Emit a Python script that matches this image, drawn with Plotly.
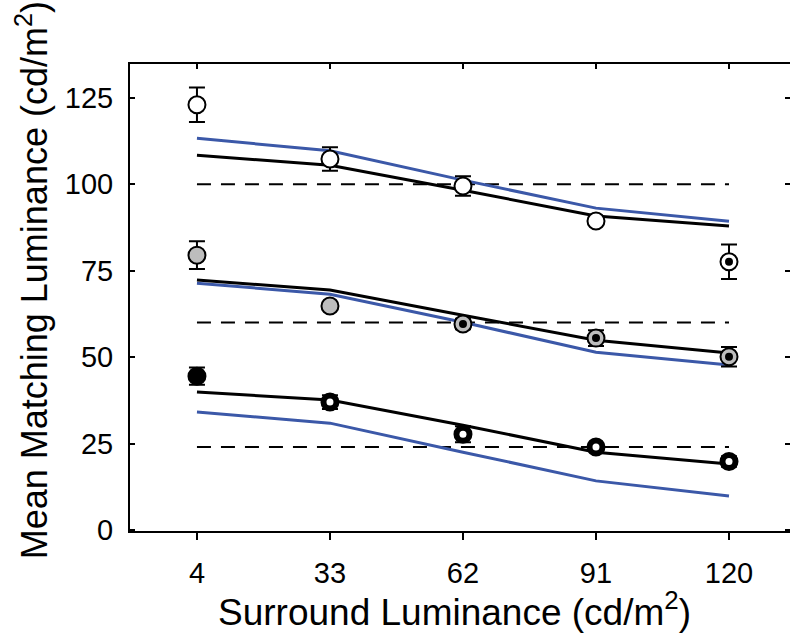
import plotly.graph_objects as go

# ---------------- data ----------------
surround = [4, 33, 62, 91, 120]
tick_vals_y = [0, 25, 50, 75, 100, 125]

high_mean = [123.0, 107.3, 99.5, 89.4, 77.6]
high_err = [5.0, 3.4, 2.8, 1.0, 5.0]
mid_mean = [79.5, 64.8, 59.6, 55.5, 50.1]
mid_err = [4.0, 1.0, 1.5, 2.3, 2.8]
low_mean = [44.5, 37.0, 27.7, 24.0, 19.8]
low_err = [2.5, 2.0, 2.3, 1.0, 1.5]

high_model_black = [108.4, 105.5, 98.3, 90.8, 87.9]
high_model_blue = [113.3, 109.7, 101.2, 93.1, 89.3]
mid_model_black = [72.3, 69.4, 62.1, 54.9, 51.2]
mid_model_blue = [71.4, 68.2, 60.1, 51.4, 47.7]
low_model_black = [39.9, 37.6, 30.3, 22.5, 19.1]
low_model_blue = [34.1, 30.9, 22.5, 14.2, 9.8]

targets = [100, 60, 24]

# which points have an inner dot (surround brighter than target)
high_dot = [False, False, False, False, True]
mid_dot = [False, False, True, True, True]
low_dot = [False, True, True, True, True]

BLUE = "#3B58A8"
GREY = "#BDBDBD"
FONT = "Liberation Sans"

fig = go.Figure()

# dashed target lines
for t in targets:
    fig.add_trace(go.Scatter(x=[surround[0], surround[-1]], y=[t, t], mode="lines",
                             line=dict(color="black", width=2, dash="14px,10px"),
                             showlegend=False, hoverinfo="skip"))

# model lines
for ys in [high_model_blue, mid_model_blue, low_model_blue]:
    fig.add_trace(go.Scatter(x=surround, y=ys, mode="lines",
                             line=dict(color=BLUE, width=3), showlegend=False))
for ys in [high_model_black, mid_model_black, low_model_black]:
    fig.add_trace(go.Scatter(x=surround, y=ys, mode="lines",
                             line=dict(color="black", width=3), showlegend=False))

# data markers with error bars
series = [
    (high_mean, high_err, "white", high_dot, "black"),
    (mid_mean, mid_err, GREY, mid_dot, "black"),
    (low_mean, low_err, "black", low_dot, "white"),
]
for mean, err, fill, dots, dotcol in series:
    fig.add_trace(go.Scatter(
        x=surround, y=mean, mode="markers",
        marker=dict(symbol="circle", size=17, color=fill,
                    line=dict(color="black", width=2)),
        error_y=dict(type="data", array=err, visible=True, color="black",
                     thickness=2, width=8),
        showlegend=False))
    dx = [x for x, d in zip(surround, dots) if d]
    dy = [y for y, d in zip(mean, dots) if d]
    fig.add_trace(go.Scatter(
        x=dx, y=dy, mode="markers",
        marker=dict(symbol="circle", size=8 if dotcol == "black" else 7,
                    color=dotcol, line=dict(width=0)),
        showlegend=False))

# invisible trace for secondary axes
fig.add_trace(go.Scatter(x=[surround[0]], y=[0], xaxis="x2", yaxis="y2",
                         mode="markers", marker=dict(opacity=0),
                         showlegend=False, hoverinfo="skip"))

xr = [-10.6, 133.3]
yr = [-0.3, 134.8]

fig.update_layout(
    width=790, height=644,
    margin=dict(l=130, r=0, t=64, b=113),
    paper_bgcolor="white", plot_bgcolor="white",
    font=dict(family=FONT, color="black"),
    xaxis=dict(range=xr, tickvals=surround, ticktext=[str(v) for v in surround],
               ticks="outside", ticklen=7, tickwidth=1.5, tickcolor="black",
               showline=True, linecolor="black", linewidth=2, mirror=True,
               showgrid=False, zeroline=False,
               tickfont=dict(family=FONT, size=29, color="black"),
               ticklabelstandoff=8),
    yaxis=dict(range=yr, tickvals=tick_vals_y,
               ticks="inside", ticklen=5, tickwidth=1.5, tickcolor="black",
               showline=True, linecolor="black", linewidth=2,
               showgrid=False, zeroline=False,
               tickfont=dict(family=FONT, size=29, color="black"),
               ticklabelstandoff=9),
    xaxis2=dict(range=xr, overlaying="x", side="top", tickvals=surround,
                ticks="inside", ticklen=5, tickwidth=1.5, tickcolor="black",
                showticklabels=False, showline=False, showgrid=False,
                zeroline=False, anchor="y"),
    yaxis2=dict(range=yr, overlaying="y", side="right", tickvals=tick_vals_y,
                ticks="inside", ticklen=5, tickwidth=1.5, tickcolor="black",
                showticklabels=False, showline=False, showgrid=False,
                zeroline=False, anchor="x"),
    annotations=[
        dict(text="Surround Luminance (cd/m<sup>2</sup>)", xref="paper", yref="paper",
             x=0.491, y=-0.169, xanchor="center", yanchor="middle", showarrow=False,
             font=dict(family=FONT, size=37, color="black")),
        dict(text="Mean Matching Luminance (cd/m<sup>2</sup>)", xref="paper", yref="paper",
             x=-0.148, y=0.5375, xanchor="center", yanchor="middle", showarrow=False,
             textangle=-90, font=dict(family=FONT, size=36, color="black")),
    ],
)

fig.write_html("out.html", config={"displayModeBar": False},
               post_script="document.body.style.margin='0';document.body.style.padding='0';")
